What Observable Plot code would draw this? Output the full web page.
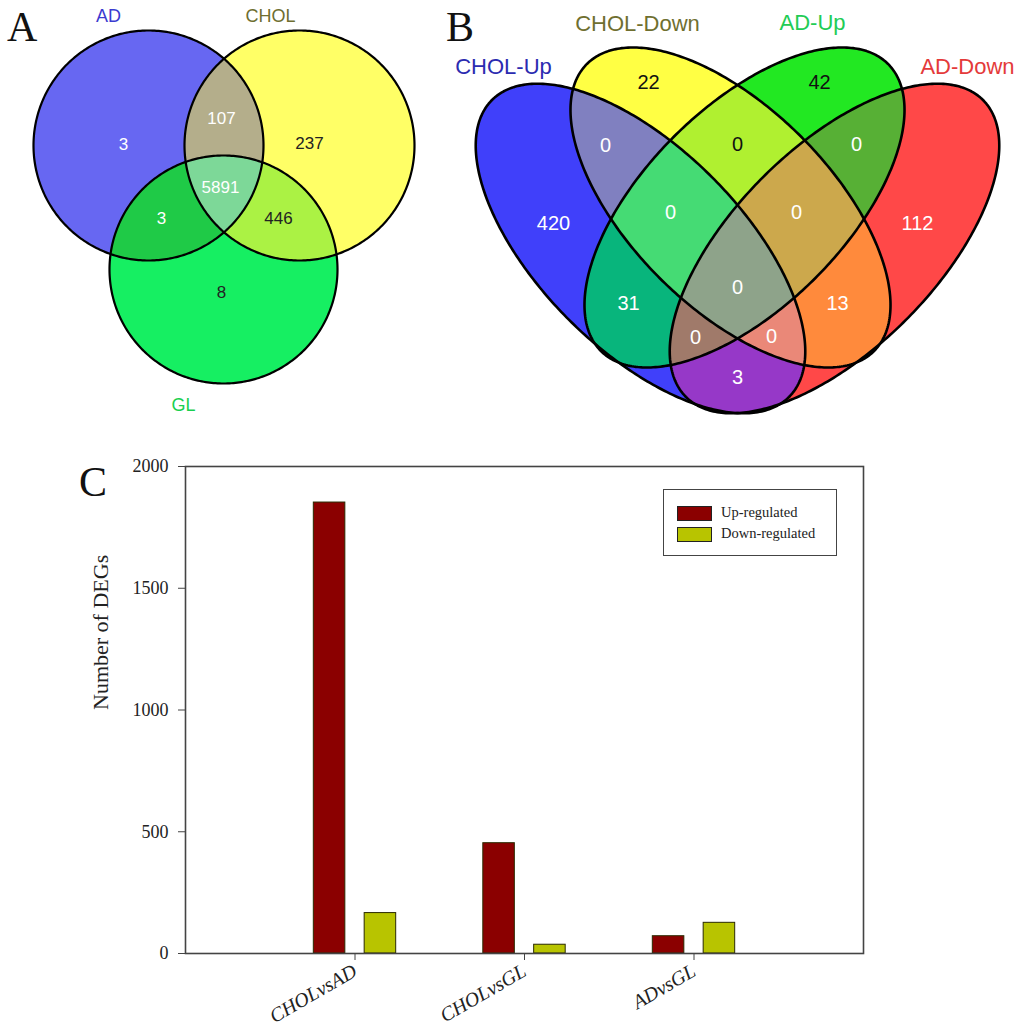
<!DOCTYPE html>
<html>
<head>
<meta charset="utf-8">
<script src="https://cdn.jsdelivr.net/npm/d3@7"></script>
<script src="https://cdn.jsdelivr.net/npm/@observablehq/plot@0.6"></script>
<style>
  html, body { margin: 0; padding: 0; background: #fff; }
  body { width: 1024px; height: 1031px; position: relative; overflow: hidden; }
  .abs { position: absolute; }
  .panel { font-family: "Liberation Serif", "Times New Roman", serif; font-size: 42px; line-height: 1; color: #111; }
  .legend { font-family: "Liberation Serif", "Times New Roman", serif; font-size: 14.5px; color: #222; }
  .sw { position: absolute; border: 1px solid #222; box-sizing: border-box; }
</style>
</head>
<body>
<div id="top" class="abs" style="left:0;top:0"></div>
<div id="bar" class="abs" style="left:0;top:430px"></div>
<div class="abs panel" style="left:7px;top:6px">A</div>
<div class="abs panel" style="left:446px;top:6px">B</div>
<div class="abs panel" style="left:79px;top:461px">C</div>
<div id="legend" class="abs legend"></div>
<script>
// ================= DATA =================
// Panel A: three-set Venn
const vennASets = ["AD", "CHOL", "GL"];
const vennARegions = [["AD"], ["CHOL"], ["GL"], ["AD", "CHOL"], ["AD", "GL"], ["CHOL", "GL"], ["AD", "CHOL", "GL"]];
const vennACounts = [3, 237, 8, 107, 3, 446, 5891];

// Panel B: four-set Venn
const vennBSets = ["CHOL-Up", "CHOL-Down", "AD-Up", "AD-Down"];
const vennBRegions = [
  ["CHOL-Up"], ["CHOL-Down"], ["AD-Up"], ["AD-Down"],
  ["CHOL-Up", "CHOL-Down"], ["CHOL-Down", "AD-Up"], ["AD-Up", "AD-Down"],
  ["CHOL-Up", "AD-Up"], ["CHOL-Down", "AD-Down"], ["CHOL-Up", "AD-Down"],
  ["CHOL-Up", "CHOL-Down", "AD-Up"], ["CHOL-Down", "AD-Up", "AD-Down"],
  ["CHOL-Up", "AD-Up", "AD-Down"], ["CHOL-Up", "CHOL-Down", "AD-Down"],
  ["CHOL-Up", "CHOL-Down", "AD-Up", "AD-Down"]
];
const vennBCounts = [420, 22, 42, 112, 0, 0, 0, 31, 13, 3, 0, 0, 0, 0, 0];

// Panel C: bar chart
const categories = ["CHOLvsAD", "CHOLvsGL", "ADvsGL"];
const upRegulated = [1852, 453, 71];
const downRegulated = [166, 36, 126];
const seriesNames = ["Up-regulated", "Down-regulated"];
const yTicks = [0, 500, 1000, 1500, 2000];
const yLabel = "Number of DEGs";

// ================= LAYOUT & STYLE =================
const vennAShapes = {
  "AD":   {cx: 148, cy: 145, a: 115, b: 115, deg: 0},
  "CHOL": {cx: 299, cy: 145, a: 115, b: 115, deg: 0},
  "GL":   {cx: 223, cy: 269, a: 114, b: 114, deg: 0}
};
const vennAFill = ["#6767f2", "#ffff66", "#16ef62", "#b4ae8b", "#1fca47", "#abf244", "#7dd898"];
const vennAText = ["#fff", "#222", "#222", "#fff", "#fff", "#222", "#fff"];
const vennALabelAt = [[123, 144], [309, 143], [221, 292], [221, 118], [161, 218], [278, 218], [220, 187]];
const vennATitleAt = [[108, 16], [270, 16], [183, 405]];
const vennATitleColor = ["#3b3bd0", "#6e6e30", "#19cf4f"];

const vennBShapes = {
  "CHOL-Up":   {cx: 640, cy: 248, a: 210, b: 101, deg: 45},
  "CHOL-Down": {cx: 730, cy: 207, a: 203, b: 100, deg: 45},
  "AD-Up":     {cx: 744, cy: 207, a: 203, b: 100, deg: 135},
  "AD-Down":   {cx: 834, cy: 248, a: 210, b: 101, deg: 135}
};
const vennBFill = ["#4040fa", "#ffff44", "#22e822", "#ff4848",
  "#8080c0", "#b0f030", "#57b035", "#08b57c", "#ff8a3c", "#9638c8",
  "#45db74", "#cca84c", "#a07a6a", "#ea8878", "#8ea38a"];
const vennBText = ["#fff", "#111", "#111", "#fff", "#fff", "#111", "#fff", "#fff", "#fff", "#fff",
  "#fff", "#fff", "#fff", "#fff", "#fff"];
const vennBLabelAt = [[553, 223], [648, 82], [819, 82], [917, 223], [605, 145], [737, 144], [856, 144],
  [628, 303], [837, 303], [737, 377], [670, 212], [796, 212], [695, 337], [771, 336], [737, 287]];
const vennBTitleAt = [[503, 66], [637, 23], [812, 22], [967, 66]];
const vennBTitleColor = ["#2b2bb0", "#6f6f30", "#22cc55", "#e43a3a"];

const seriesColors = ["#8b0000", "#b8c400"];
const seriesOffset = [-0.15, 0.15];
const barHalfWidth = 0.093;

// ================= GEOMETRY HELPERS =================
function ellipsePoly({cx, cy, a, b, deg}, n = 360) {
  const th = deg * Math.PI / 180, c = Math.cos(th), s = Math.sin(th);
  return d3.range(n).map(i => {
    const t = 2 * Math.PI * i / n, u = a * Math.cos(t), v = b * Math.sin(t);
    return [cx + u * c - v * s, cy + u * s + v * c];
  });
}
function shoelace(p) {
  let s = 0;
  for (let i = 0; i < p.length; i++) { const a = p[i], b = p[(i + 1) % p.length]; s += a[0] * b[1] - b[0] * a[1]; }
  return s / 2;
}
function clipConvex(subject, clipper) {
  const sgn = Math.sign(shoelace(clipper));
  const inside = (p, a, b) => sgn * ((b[0] - a[0]) * (p[1] - a[1]) - (b[1] - a[1]) * (p[0] - a[0])) >= 0;
  const inter = (p, q, a, b) => {
    const [x1, y1] = p, [x2, y2] = q, [x3, y3] = a, [x4, y4] = b;
    const den = (x1 - x2) * (y3 - y4) - (y1 - y2) * (x3 - x4);
    const t = ((x1 - x3) * (y3 - y4) - (y1 - y3) * (x3 - x4)) / den;
    return [x1 + t * (x2 - x1), y1 + t * (y2 - y1)];
  };
  let out = subject;
  for (let i = 0; i < clipper.length && out.length; i++) {
    const a = clipper[i], b = clipper[(i + 1) % clipper.length];
    const input = out; out = [];
    for (let j = 0; j < input.length; j++) {
      const p = input[j], q = input[(j + 1) % input.length];
      const pin = inside(p, a, b), qin = inside(q, a, b);
      if (pin) { out.push(p); if (!qin) out.push(inter(p, q, a, b)); }
      else if (qin) out.push(inter(p, q, a, b));
    }
  }
  return out;
}
function vennMarks(sets, shapes, regions, counts, fills, textColors, labelAt, titleAt, titleColors, numSize, titleSize, strokeW) {
  const polys = Object.fromEntries(sets.map(s => [s, ellipsePoly(shapes[s])]));
  const order = d3.range(regions.length).sort((i, j) => regions[i].length - regions[j].length || i - j);
  const marks = [];
  for (const i of order) {
    const r = regions[i];
    let poly = polys[r[0]];
    for (const s of r.slice(1)) poly = clipConvex(poly, polys[s]);
    if (poly.length < 3) continue;
    marks.push(Plot.line(poly, {x: d => d[0], y: d => d[1], fill: fills[i], stroke: fills[i], strokeWidth: 0.6, curve: "linear-closed"}));
  }
  for (const s of sets) {
    marks.push(Plot.line(polys[s], {x: d => d[0], y: d => d[1], stroke: "#000", strokeWidth: strokeW, fill: "none", curve: "linear-closed"}));
  }
  const nums = regions.map((r, i) => ({t: String(counts[i]), x: labelAt[i][0], y: labelAt[i][1], c: textColors[i]}));
  marks.push(Plot.text(nums, {x: "x", y: "y", text: "t", fill: "c", fontSize: numSize, fontFamily: "Liberation Sans, Arial, sans-serif"}));
  const titles = sets.map((s, i) => ({t: s, x: titleAt[i][0], y: titleAt[i][1], c: titleColors[i]}));
  marks.push(Plot.text(titles, {x: "x", y: "y", text: "t", fill: "c", fontSize: titleSize, fontFamily: "Liberation Sans, Arial, sans-serif"}));
  return marks;
}

// ================= PANELS A + B =================
const TW = 1024, TH = 428;
const topPlot = Plot.plot({
  width: TW, height: TH, margin: 0,
  x: {domain: [0, TW], range: [0, TW], axis: null},
  y: {domain: [0, TH], range: [0, TH], axis: null},
  color: {type: "identity"},
  style: {background: "transparent", overflow: "visible"},
  marks: [
    ...vennMarks(vennASets, vennAShapes, vennARegions, vennACounts, vennAFill, vennAText, vennALabelAt, vennATitleAt, vennATitleColor, 17, 18, 2.2),
    ...vennMarks(vennBSets, vennBShapes, vennBRegions, vennBCounts, vennBFill, vennBText, vennBLabelAt, vennBTitleAt, vennBTitleColor, 20, 22, 2.6)
  ]
});
document.getElementById("top").append(topPlot);

// ================= PANEL C =================
const rows = categories.flatMap((c, i) => seriesNames.map((s, k) => ({
  cat: c, i, series: s, k, value: (k === 0 ? upRegulated : downRegulated)[i]
})));
const barPlot = Plot.plot({
  width: 1024, height: 601,
  marginTop: 36, marginBottom: 78, marginLeft: 185, marginRight: 161,
  style: {fontFamily: "Liberation Serif, Times New Roman, serif", background: "transparent", overflow: "visible", color: "#222"},
  x: {domain: [0, categories.length + 1]},
  y: {domain: [yTicks[0], yTicks[yTicks.length - 1]]},
  color: {domain: seriesNames, range: seriesColors},
  marks: [
    Plot.rect(rows, {
      x1: d => d.i + 1 + seriesOffset[d.k] - barHalfWidth,
      x2: d => d.i + 1 + seriesOffset[d.k] + barHalfWidth,
      y1: 0, y2: "value", fill: "series", stroke: "#2a2a00", strokeWidth: 1
    }),
    Plot.frame({stroke: "#444", strokeWidth: 1.6}),
    Plot.axisY({ticks: yTicks, tickFormat: d3.format("d"), tickSize: 7, tickPadding: 10, fontSize: 18, label: null, stroke: "#444"}),
    Plot.axisX({ticks: categories.map((c, i) => i + 1), tickFormat: i => categories[i - 1], tickSize: 7, tickPadding: 9,
      tickRotate: -30, fontSize: 20, fontStyle: "italic", label: null, stroke: "#444"}),
    Plot.text([yLabel], {text: d => d, frameAnchor: "left", rotate: -90, dx: -85, fontSize: 22, fill: "#222"})
  ]
});
document.getElementById("bar").append(barPlot);

// legend (box at upper right of panel C)
const lg = document.getElementById("legend");
Object.assign(lg.style, {left: "663px", top: "489px", width: "172px", height: "65px", border: "1.6px solid #444", background: "#fff"});
seriesNames.forEach((s, k) => {
  const sw = document.createElement("div");
  sw.className = "sw";
  Object.assign(sw.style, {left: "13px", top: (16 + 20.5 * k) + "px", width: "35px", height: "15px", background: seriesColors[k]});
  lg.append(sw);
  const t = document.createElement("div");
  Object.assign(t.style, {position: "absolute", left: "57px", top: (14 + 20.5 * k) + "px", lineHeight: "17px", whiteSpace: "nowrap"});
  t.textContent = s;
  lg.append(t);
});
</script>
</body>
</html>
